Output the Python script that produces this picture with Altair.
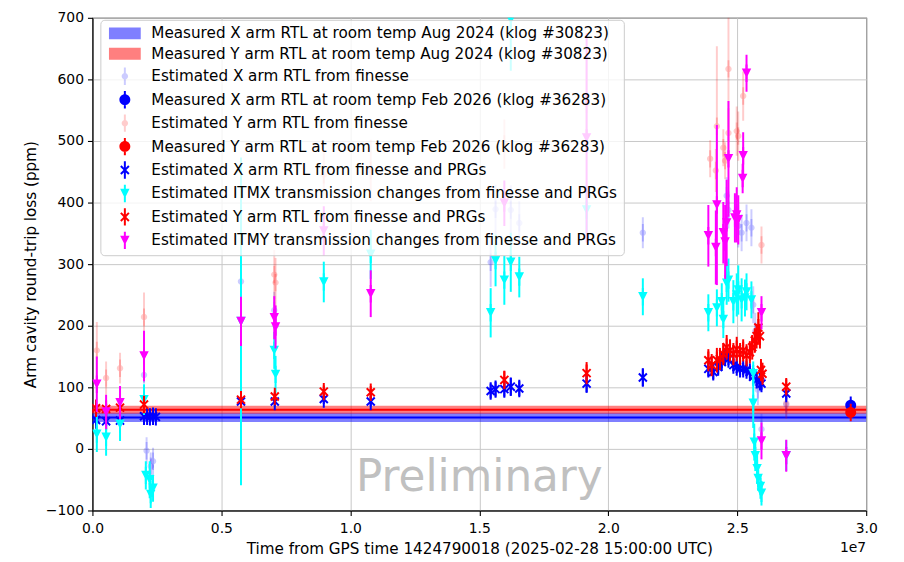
import altair as alt
import pandas as pd

# ---------------- labels / styles ----------------
L_XAUG = "Measured X arm RTL at room temp Aug 2024 (klog #30823)"
L_YAUG = "Measured Y arm RTL at room temp Aug 2024 (klog #30823)"
L_XFIN = "Estimated X arm RTL from finesse"
L_XFEB = "Measured X arm RTL at room temp Feb 2026 (klog #36283)"
L_YFIN = "Estimated Y arm RTL from finesse"
L_YFEB = "Measured Y arm RTL at room temp Feb 2026 (klog #36283)"
L_XPRG = "Estimated X arm RTL from finesse and PRGs"
L_ITMX = "Estimated ITMX transmission changes from finesse and PRGs"
L_YPRG = "Estimated Y arm RTL from finesse and PRGs"
L_ITMY = "Estimated ITMY transmission changes from finesse and PRGs"

LABELS = [L_XAUG, L_YAUG, L_XFIN, L_XFEB, L_YFIN, L_YFEB, L_XPRG, L_ITMX, L_YPRG, L_ITMY]
COLORS = ["blue", "red", "blue", "blue", "red", "red", "blue", "cyan", "red", "magenta"]
OPACITY = [0.5, 0.5, 0.2, 1, 0.2, 1, 1, 1, 1, 1]

BAR = "M-0.2,-1.75H0.2V1.75H-0.2Z"
PATCH = "M-3.2,-1.2H3.2V1.2H-3.2Z"
SMALL_CIRCLE = "M0.65,0A0.65,0.65,0,1,1,-0.65,0A0.65,0.65,0,1,1,0.65,0Z" + BAR
BIG_CIRCLE = "M1.1,0A1.1,1.1,0,1,1,-1.1,0A1.1,1.1,0,1,1,1.1,0Z" + BAR
XMARK = ("M-0.95,-0.67L-0.67,-0.95L0,-0.28L0.67,-0.95L0.95,-0.67L0.28,0"
         "L0.95,0.67L0.67,0.95L0,0.28L-0.67,0.95L-0.95,0.67L-0.28,0Z" + BAR)
TRI_DOWN = "M-0.95,-0.95H0.95L0,0.95Z" + BAR
SHAPES = [PATCH, PATCH, SMALL_CIRCLE, BIG_CIRCLE, SMALL_CIRCLE, BIG_CIRCLE,
          XMARK, TRI_DOWN, XMARK, TRI_DOWN]

X_TITLE = "Time from GPS time 1424790018 (2025-02-28 15:00:00 UTC)"
Y_TITLE = "Arm cavity round-trip loss (ppm)"
X_TICKS = [0.0, 0.5, 1.0, 1.5, 2.0, 2.5, 3.0]
Y_TICKS = [-100, 0, 100, 200, 300, 400, 500, 600, 700]

# ---------------- data (time in units of 1e7 s, loss in ppm) ----------------
BAND_LABELS = [L_XAUG, L_YAUG]
BAND_MID = [51, 63.5]
BAND_HALF = [7.5, 6.5]

XFEB_T = [2.94]
XFEB_V = [71]
XFEB_E = [5]
YFEB_T = [2.94]
YFEB_V = [59]
YFEB_E = [5]

XFIN_T = [0.014, 0.053, 0.200, 0.210, 0.226, 0.235, 0.576, 0.705, 0.710, 1.544, 1.563,
          1.622, 1.655, 2.134, 2.459, 2.466, 2.491, 2.504, 2.517, 2.536, 2.555, 2.562,
          2.570, 2.580, 2.594, 2.690]
XFIN_V = [47, 46, 120, -3, -28, -20, 272, 225, 200, 303, 389,
          388, 367, 351, 411, 388, 378, 362, 351, 367, 359, 234,
          191, 96, 32, 72]
XFIN_E = [10, 10, 12, 22, 22, 22, 25, 30, 30, 40, 40,
          40, 35, 25, 30, 30, 35, 35, 30, 30, 30, 30,
          30, 25, 25, 20]

YFIN_T = [0.017, 0.053, 0.107, 0.200, 0.705, 0.710, 0.897, 1.079, 1.597, 1.916, 2.395,
          2.417, 2.421, 2.446, 2.453, 2.466, 2.466, 2.498, 2.504, 2.523, 2.594, 2.690]
YFIN_V = [160, 115, 131, 214, 283, 270, 445, 452, 495, 560, 471,
          452, 524, 489, 468, 617, 513, 516, 508, 573, 331, 74]
YFIN_E = [46, 27, 25, 40, 40, 40, 40, 50, 40, 80, 30,
          35, 130, 30, 30, 90, 40, 40, 40, 40, 30, 25]

XPRG_T = [0.014, 0.053, 0.107, 0.200, 0.212, 0.223, 0.235, 0.246, 0.576, 0.707, 0.897,
          1.079, 1.544, 1.563, 1.597, 1.622, 1.655, 1.916, 2.134, 2.388, 2.407, 2.426,
          2.440, 2.453, 2.466, 2.485, 2.498, 2.511, 2.523, 2.536, 2.549, 2.562, 2.575,
          2.588, 2.594, 2.690]
XPRG_V = [47, 45, 46, 53, 53, 52, 53, 52, 77, 77, 81,
          77, 94, 97, 97, 101, 98, 106, 116, 130, 125, 133,
          141, 149, 146, 136, 133, 130, 130, 128, 125, 117, 112,
          109, 106, 90]
XPRG_E = [8, 8, 8, 6, 6, 6, 6, 6, 8, 8, 8,
          8, 12, 12, 12, 15, 12, 15, 15, 12, 12, 12,
          10, 10, 10, 10, 10, 10, 10, 10, 10, 10, 10,
          10, 10, 10]

YPRG_T = [0.014, 0.053, 0.107, 0.200, 0.576, 0.707, 0.897, 1.079, 1.597, 1.916, 2.388,
          2.401, 2.421, 2.433, 2.446, 2.459, 2.472, 2.485, 2.498, 2.511, 2.523, 2.536,
          2.549, 2.558, 2.568, 2.575, 2.582, 2.588, 2.592, 2.598, 2.690]
YPRG_V = [66, 65, 67, 72, 80, 85, 93, 92, 112, 123, 144,
          136, 144, 146, 154, 165, 160, 154, 162, 154, 160, 152,
          157, 165, 176, 183, 197, 183, 128, 122, 101]
YPRG_E = [8, 8, 8, 10, 8, 8, 10, 10, 15, 18, 18,
          18, 20, 18, 18, 20, 18, 18, 20, 18, 18, 18,
          18, 20, 20, 20, 25, 20, 18, 18, 12]

ITMX_T = [0.017, 0.053, 0.107, 0.200, 0.207, 0.222, 0.226, 0.235, 0.576, 0.705, 0.710,
          0.897, 1.079, 1.544, 1.563, 1.597, 1.622, 1.622, 1.655, 1.916, 2.134, 2.388,
          2.421, 2.440, 2.446, 2.459, 2.466, 2.485, 2.498, 2.504, 2.517, 2.530, 2.536,
          2.555, 2.562, 2.562, 2.566, 2.570, 2.577, 2.581, 2.590, 2.594, 2.690]
ITMX_V = [24, 19, 40, 80, -43, -50, -74, -64, 207, 160, 121,
          271, 316, 221, 306, 274, 303, 697, 279, 388, 247, 221,
          229, 239, 210, 269, 274, 239, 250, 258, 242, 245, 255,
          242, 122, 74, 11, -11, -32, -48, -61, -72, -11]
ITMX_E = [29, 30, 27, 25, 23, 30, 22, 22, 266, 30, 30,
          33, 40, 40, 42, 40, 48, 83, 33, 40, 30, 30,
          30, 30, 30, 35, 35, 35, 35, 40, 35, 30, 30,
          30, 20, 40, 30, 25, 25, 20, 20, 20, 25]

ITMY_T = [0.017, 0.053, 0.107, 0.200, 0.576, 0.705, 0.710, 0.897, 1.079, 1.597, 1.916,
          2.388, 2.417, 2.421, 2.446, 2.453, 2.459, 2.466, 2.491, 2.498, 2.504, 2.521,
          2.523, 2.536, 2.594, 2.594, 2.690]
ITMY_V = [105, 60, 75, 151, 207, 213, 198, 354, 252, 399, 505,
          346, 327, 396, 351, 336, 367, 471, 375, 380, 372, 439,
          476, 610, 221, 13, -11]
ITMY_E = [45, 28, 27, 41, 40, 35, 35, 40, 38, 37, 170,
          50, 60, 130, 50, 60, 70, 94, 40, 45, 40, 24,
          38, 30, 27, 30, 26]

WATERMARK_T = [1.5]
WATERMARK_V = [-68]
WATERMARK_TEXT = ["Preliminary"]

SERIES = [
    (L_XFIN, XFIN_T, XFIN_V, XFIN_E),
    (L_XFEB, XFEB_T, XFEB_V, XFEB_E),
    (L_YFIN, YFIN_T, YFIN_V, YFIN_E),
    (L_YFEB, YFEB_T, YFEB_V, YFEB_E),
    (L_XPRG, XPRG_T, XPRG_V, XPRG_E),
    (L_ITMX, ITMX_T, ITMX_V, ITMX_E),
    (L_YPRG, YPRG_T, YPRG_V, YPRG_E),
    (L_ITMY, ITMY_T, ITMY_V, ITMY_E),
]

# ---------------- shared encodings ----------------
W, H = 779, 496
TEXT_SIZE = 15.3
TICK_SIZE = 14
xscale = alt.Scale(domain=[0, 3.0], nice=False, zero=False)
yscale = alt.Scale(domain=[-100, 700], nice=False, zero=False)
xaxis = alt.Axis(values=X_TICKS, format=".1f", title=X_TITLE)
yaxis = alt.Axis(values=Y_TICKS, title=Y_TITLE,
                 labelExpr="replace(datum.label, '-', '\u2212')")

legend = alt.Legend(
    title=None, orient="none", legendX=8, legendY=2,
    labelFont="DejaVu Sans", labelFontSize=TEXT_SIZE, labelColor="black", labelLimit=1000,
    symbolSize=100, symbolStrokeWidth=0, symbolOffset=11, labelOffset=19,
    rowPadding=4.6, padding=6, fillColor="rgba(255,255,255,0.8)",
    strokeColor="#cccccc", cornerRadius=4,
)

# legend scales (domain in legend order)
def color_scale():
    return alt.Scale(type="ordinal", domain=LABELS, range=COLORS)

def opacity_scale():
    return alt.Scale(type="ordinal", domain=LABELS, range=OPACITY)

# scales for channels without a legend: same mapping, different domain order
# so that they are not merged with (and do not disable) the main legend
def stroke_scale():
    return alt.Scale(type="ordinal", domain=LABELS[::-1], range=COLORS[::-1])

def stroke_opacity_scale():
    return alt.Scale(type="ordinal", domain=LABELS[::-1], range=OPACITY[::-1])

# ---------------- layers ----------------
band_df = pd.DataFrame({
    "label": BAND_LABELS,
    "mid": BAND_MID,
    "lo": [m - h for m, h in zip(BAND_MID, BAND_HALF)],
    "hi": [m + h for m, h in zip(BAND_MID, BAND_HALF)],
})

bands = alt.Chart(band_df).mark_rect().encode(
    y=alt.Y("lo:Q", scale=yscale, axis=yaxis),
    y2="hi:Q",
    fill=alt.Fill("label:N", scale=stroke_scale(), legend=None),
    fillOpacity=alt.FillOpacity("label:N", scale=stroke_opacity_scale(), legend=None),
)
band_lines = alt.Chart(band_df).mark_rule(strokeWidth=2).encode(
    y=alt.Y("mid:Q", scale=yscale, axis=yaxis),
    stroke=alt.Stroke("label:N", scale=stroke_scale(), legend=None),
)

layers = [bands, band_lines]
for name, ts, vs, es in SERIES:
    df = pd.DataFrame({
        "label": [name] * len(ts),
        "t": ts,
        "v": vs,
        "lo": [v - e for v, e in zip(vs, es)],
        "hi": [v + e for v, e in zip(vs, es)],
    })
    err = alt.Chart(df).mark_rule(strokeWidth=2, clip=True).encode(
        x=alt.X("t:Q", scale=xscale, axis=xaxis),
        y=alt.Y("lo:Q", scale=yscale, axis=yaxis),
        y2="hi:Q",
        stroke=alt.Stroke("label:N", scale=stroke_scale(), legend=None),
        strokeOpacity=alt.StrokeOpacity("label:N", scale=stroke_opacity_scale(), legend=None),
    )
    pts = alt.Chart(df).mark_point(filled=True, size=100, strokeWidth=0, clip=True).encode(
        x=alt.X("t:Q", scale=xscale, axis=xaxis),
        y=alt.Y("v:Q", scale=yscale, axis=yaxis),
        color=alt.Color("label:N", scale=color_scale(), legend=legend),
        shape=alt.Shape("label:N", scale=alt.Scale(domain=LABELS, range=SHAPES), legend=legend),
        opacity=alt.Opacity("label:N", scale=opacity_scale(), legend=legend),
    )
    layers += [err, pts]

wm_df = pd.DataFrame({"t": WATERMARK_T, "v": WATERMARK_V, "text": WATERMARK_TEXT})
watermark = alt.Chart(wm_df).mark_text(
    font="DejaVu Sans", fontSize=44, color="#c0c0c0", align="center", baseline="alphabetic"
).encode(
    x=alt.X("t:Q", scale=xscale, axis=xaxis),
    y=alt.Y("v:Q", scale=yscale, axis=yaxis),
    text="text:N",
)

offset_label = alt.Chart(pd.DataFrame({"text": ["1e7"]})).mark_text(
    font="DejaVu Sans", fontSize=TICK_SIZE, color="black", align="right", baseline="middle"
).encode(x=alt.value(W), y=alt.value(H + 38), text="text:N")

layers += [watermark, offset_label]

chart = alt.layer(*layers).properties(
    width=W, height=H,
    autosize=alt.AutoSizeParams(type="none"),
    padding={"left": 85, "top": 8, "right": 30, "bottom": 50},
).configure_view(
    stroke="black", strokeWidth=1.1
).configure_axis(
    labelFont="DejaVu Sans", titleFont="DejaVu Sans",
    labelFontSize=TICK_SIZE, titleFontSize=TEXT_SIZE, labelColor="black", titleColor="black",
    titleFontWeight="normal", tickColor="black", tickSize=5, tickWidth=1.1,
    domainColor="black", domainWidth=1.1, gridColor="#c8c8c8", gridWidth=1,
    labelPadding=4, labelFlush=False, labelOverlap=False,
).configure_axisX(
    labelPadding=6, titlePadding=6
).configure_axisY(
    titlePadding=7
)

chart.save("out.html", embed_options={"renderer": "svg", "actions": False})
